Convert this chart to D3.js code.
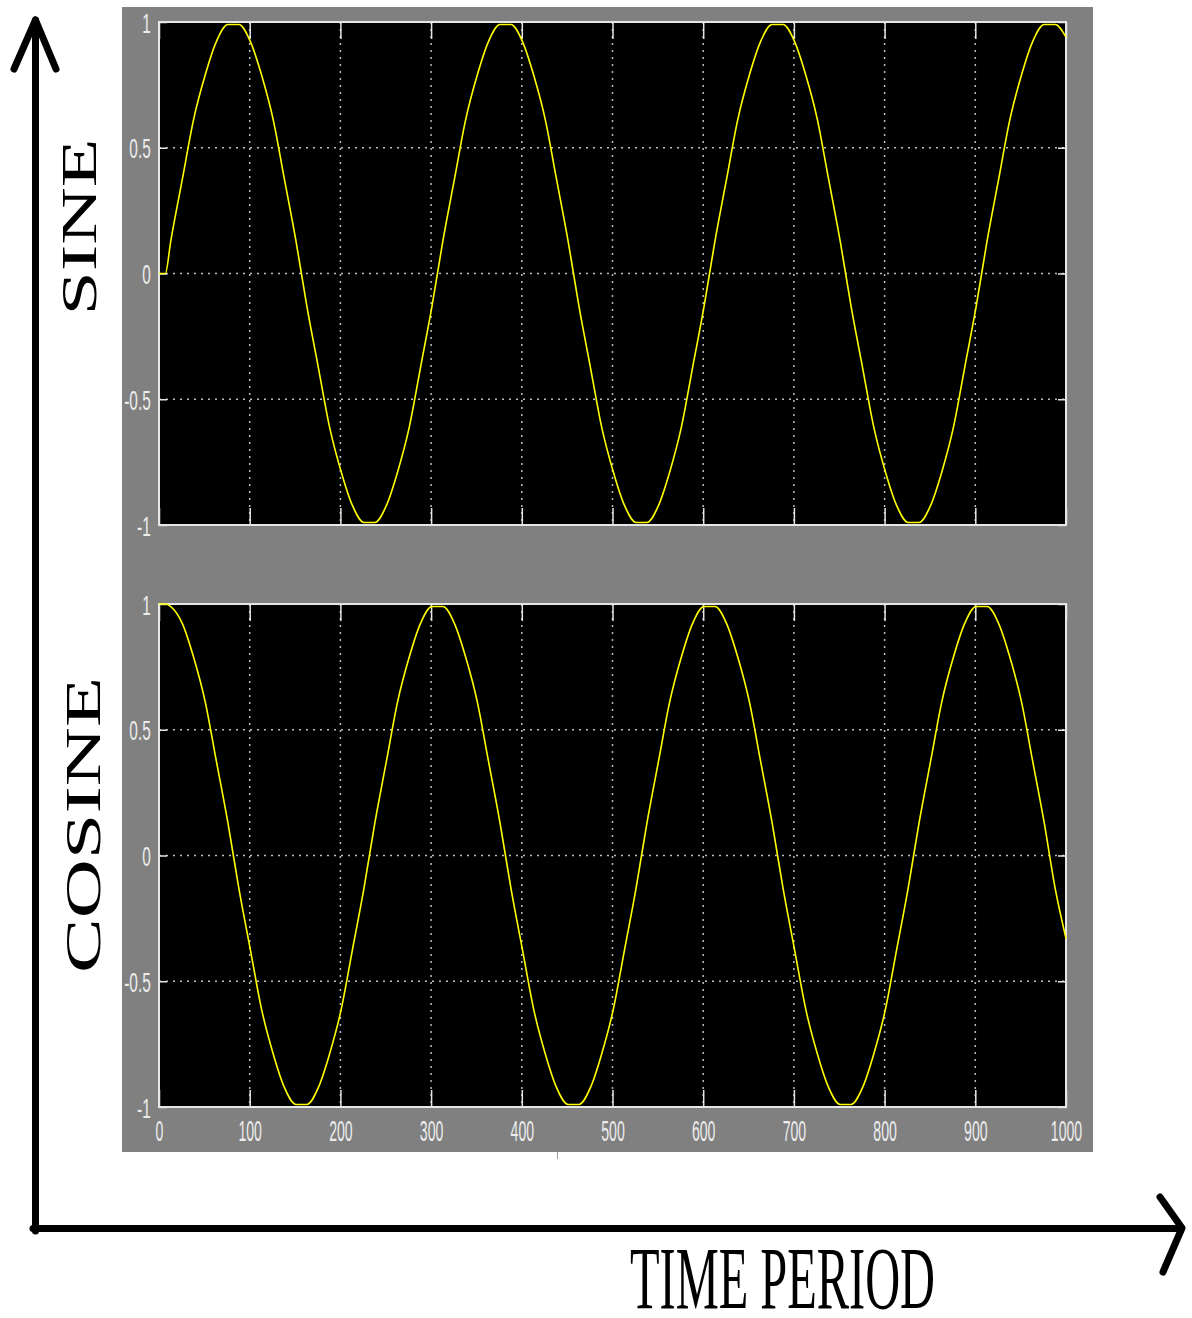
<!DOCTYPE html>
<html>
<head>
<meta charset="utf-8">
<script src="https://cdn.jsdelivr.net/npm/d3@7"></script>
<style>
  html, body { margin: 0; padding: 0; background: #ffffff; }
  svg { display: block; }
</style>
</head>
<body>
<script>
// Sampled scope traces: time (0..1000) with sine and cosine readings
const time = [
  0, 7,
  13, 26, 38, 51, 63, 76, 88, 101,
  113, 126, 138, 151, 163, 176, 188, 201,
  213, 226, 238, 251, 263, 276, 288, 301,
  313, 326, 338, 351, 363, 376, 388, 401,
  413, 426, 438, 451, 463, 476, 488, 501,
  513, 526, 538, 551, 563, 576, 588, 601,
  613, 626, 638, 651, 663, 676, 688, 701,
  713, 726, 738, 751, 763, 776, 788, 801,
  813, 826, 838, 851, 863, 876, 888, 901,
  913, 926, 938, 951, 963, 976, 988,
  1000
];
const sineValues = [
  0, 0,
  0.13, 0.38, 0.61, 0.79, 0.92, 0.99, 0.99, 0.92,
  0.79, 0.61, 0.38, 0.13, -0.13, -0.38, -0.61, -0.79,
  -0.92, -0.99, -0.99, -0.92, -0.79, -0.61, -0.38, -0.13,
  0.13, 0.38, 0.61, 0.79, 0.92, 0.99, 0.99, 0.92,
  0.79, 0.61, 0.38, 0.13, -0.13, -0.38, -0.61, -0.79,
  -0.92, -0.99, -0.99, -0.92, -0.79, -0.61, -0.38, -0.13,
  0.13, 0.38, 0.61, 0.79, 0.92, 0.99, 0.99, 0.92,
  0.79, 0.61, 0.38, 0.13, -0.13, -0.38, -0.61, -0.79,
  -0.92, -0.99, -0.99, -0.92, -0.79, -0.61, -0.38, -0.13,
  0.13, 0.38, 0.61, 0.79, 0.92, 0.99, 0.99,
  0.94
];
const cosineValues = [
  1, 1,
  0.99, 0.92, 0.79, 0.61, 0.38, 0.13, -0.13, -0.38,
  -0.61, -0.79, -0.92, -0.99, -0.99, -0.92, -0.79, -0.61,
  -0.38, -0.13, 0.13, 0.38, 0.61, 0.79, 0.92, 0.99,
  0.99, 0.92, 0.79, 0.61, 0.38, 0.13, -0.13, -0.38,
  -0.61, -0.79, -0.92, -0.99, -0.99, -0.92, -0.79, -0.61,
  -0.38, -0.13, 0.13, 0.38, 0.61, 0.79, 0.92, 0.99,
  0.99, 0.92, 0.79, 0.61, 0.38, 0.13, -0.13, -0.38,
  -0.61, -0.79, -0.92, -0.99, -0.99, -0.92, -0.79, -0.61,
  -0.38, -0.13, 0.13, 0.38, 0.61, 0.79, 0.92, 0.99,
  0.99, 0.92, 0.79, 0.61, 0.38, 0.13, -0.13,
  -0.33
];
const xTicks = [0, 100, 200, 300, 400, 500, 600, 700, 800, 900, 1000];
const xTickLabels = ["0", "100", "200", "300", "400", "500", "600", "700", "800", "900", "1000"];
const yTicks = [-1, -0.5, 0, 0.5, 1];
const yTickLabels = ["-1", "-0.5", "0", "0.5", "1"];
const panelTitles = ["SINE", "COSINE"];
const xTitle = "TIME PERIOD";

const W = 1192, H = 1318;
const svg = d3.select("body").append("svg")
  .attr("width", W).attr("height", H)
  .attr("viewBox", `0 0 ${W} ${H}`);

svg.append("rect").attr("width", W).attr("height", H).attr("fill", "#ffffff");

// grey scope window
svg.append("rect")
  .attr("x", 122).attr("y", 7).attr("width", 971).attr("height", 1145)
  .attr("fill", "#808080");
svg.append("line")
  .attr("x1", 557.5).attr("x2", 557.5).attr("y1", 1152).attr("y2", 1159)
  .attr("stroke", "#9a9a9a").attr("stroke-width", 1);

const x = d3.scaleLinear().domain([0, 1000]).range([159, 1066]);

const panels = [
  { top: 22, bottom: 525, values: sineValues, labelsX: false },
  { top: 604, bottom: 1107, values: cosineValues, labelsX: true }
];

const frameColor = "#e6e6e6";
const points = time.map((t, i) => i);

panels.forEach(p => {
  const y = d3.scaleLinear().domain([-1, 1]).range([p.bottom, p.top]);
  const g = svg.append("g");

  g.append("rect")
    .attr("x", x(0)).attr("y", y(1))
    .attr("width", x(1000) - x(0)).attr("height", y(-1) - y(1))
    .attr("fill", "#000000");

  // dotted grid
  g.selectAll("line.vgrid").data(xTicks.slice(1, -1)).join("line")
    .attr("class", "vgrid")
    .attr("x1", d => x(d)).attr("x2", d => x(d))
    .attr("y1", y(1)).attr("y2", y(-1))
    .attr("stroke", "#bdbdbd").attr("stroke-width", 1.5)
    .attr("stroke-dasharray", "2,5");
  g.selectAll("line.hgrid").data(yTicks.slice(1, -1)).join("line")
    .attr("class", "hgrid")
    .attr("x1", x(0)).attr("x2", x(1000))
    .attr("y1", d => y(d)).attr("y2", d => y(d))
    .attr("stroke", "#bdbdbd").attr("stroke-width", 1.5)
    .attr("stroke-dasharray", "2,5");

  // inward ticks on all four sides
  const axes = [
    { ax: d3.axisBottom(x).tickValues(xTicks).tickSize(-17).tickPadding(13)
        .tickFormat((d, i) => p.labelsX ? xTickLabels[i] : ""),
      tr: `translate(0,${y(-1)})`, kind: "x" },
    { ax: d3.axisTop(x).tickValues(xTicks).tickSize(-17).tickFormat(""),
      tr: `translate(0,${y(1)})`, kind: "none" },
    { ax: d3.axisLeft(y).tickValues(yTicks).tickSize(-8).tickPadding(8)
        .tickFormat((d, i) => yTickLabels[i]),
      tr: `translate(${x(0)},0)`, kind: "y" },
    { ax: d3.axisRight(y).tickValues(yTicks).tickSize(-8).tickFormat(""),
      tr: `translate(${x(1000)},0)`, kind: "none" }
  ];
  axes.forEach(a => {
    const ag = g.append("g").attr("transform", a.tr).call(a.ax.tickSizeOuter(0));
    ag.select(".domain").remove();
    ag.selectAll(".tick line").attr("stroke", frameColor).attr("stroke-width", 1.5);
    ag.selectAll(".tick text")
      .attr("fill", "#ececec")
      .attr("font-family", "'Liberation Sans', Arial, sans-serif");
    if (a.kind === "x") {
      ag.selectAll(".tick text")
        .attr("font-size", 30)
        .attr("transform", "scale(0.47,1)");
    } else if (a.kind === "y") {
      ag.selectAll(".tick text")
        .attr("font-size", 28)
        .attr("x", -15)
        .attr("dy", "0.36em")
        .attr("transform", "scale(0.55,1)");
    }
  });

  // frame
  g.append("rect")
    .attr("x", x(0)).attr("y", y(1))
    .attr("width", x(1000) - x(0)).attr("height", y(-1) - y(1))
    .attr("fill", "none").attr("stroke", frameColor).attr("stroke-width", 2);

  // trace
  const line = d3.line()
    .x(i => x(time[i]))
    .y(i => y(p.values[i]))
    .curve(d3.curveMonotoneX);
  g.append("path")
    .attr("d", line(points))
    .attr("fill", "none")
    .attr("stroke", "#ffff00")
    .attr("stroke-width", 1.6)
    .attr("stroke-linejoin", "round");
});

// hand-drawn axis arrows
const ink = svg.append("g")
  .attr("fill", "none").attr("stroke", "#000000")
  .attr("stroke-width", 7).attr("stroke-linecap", "round").attr("stroke-linejoin", "round");
ink.append("path").attr("d", "M35.5,20 L35.5,1231");
ink.append("path").attr("d", "M14,69 L35.5,20 L56,69");
ink.append("path").attr("d", "M33,1228.5 L1180,1228.5");
ink.append("path").attr("d", "M1160,1197 L1182,1228 L1163,1272");

// titles
const serif = "'Liberation Serif', 'Times New Roman', serif";
svg.append("text")
  .attr("transform", "translate(96,227) rotate(-90)")
  .attr("text-anchor", "middle")
  .attr("font-family", serif).attr("font-size", 50)
  .attr("textLength", 177).attr("lengthAdjust", "spacingAndGlyphs")
  .attr("fill", "#000000")
  .text(panelTitles[0]);
svg.append("text")
  .attr("transform", "translate(100,825) rotate(-90)")
  .attr("text-anchor", "middle")
  .attr("font-family", serif).attr("font-size", 50)
  .attr("textLength", 296).attr("lengthAdjust", "spacingAndGlyphs")
  .attr("fill", "#000000")
  .text(panelTitles[1]);
// caption drawn at a smaller size and stretched vertically so its box stays on the page
svg.append("text")
  .attr("transform", "translate(630,1308) scale(1,1.3)")
  .attr("x", 0).attr("y", 0)
  .attr("font-family", serif).attr("font-size", 69)
  .attr("textLength", 305).attr("lengthAdjust", "spacingAndGlyphs")
  .attr("fill", "#000000")
  .text(xTitle);
</script>
</body>
</html>
